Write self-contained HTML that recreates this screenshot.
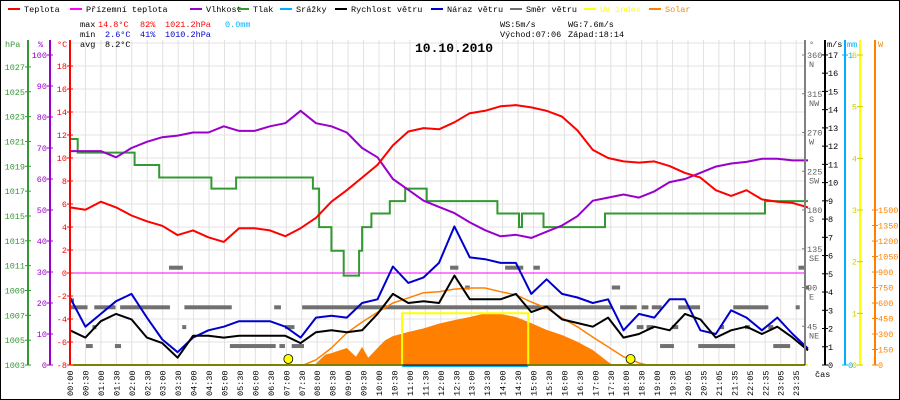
<!DOCTYPE html>
<html><head><meta charset="utf-8"><style>
html,body{margin:0;padding:0;background:#fff;}
svg{display:block;font-family:"Liberation Mono",monospace;}
</style></head><body>
<svg id="chart" width="900" height="400" viewBox="0 0 900 400" xmlns="http://www.w3.org/2000/svg">
<rect x="0" y="0" width="900" height="400" fill="#fff" stroke="#000" stroke-width="2"/>
<g id="grid"></g>
<g id="legend" font-size="8.5"></g>
<g font-size="8.5">
<text x="80" y="27" fill="#000">max</text><text x="98" y="27" fill="#f00">14.8°C</text><text x="140" y="27" fill="#f00">82%</text><text x="165" y="27" fill="#f00">1021.2hPa</text><text x="225" y="27" fill="#00b0ff">0.0mm</text>
<text x="80" y="37" fill="#000">min</text><text x="105" y="37" fill="#00c">2.6°C</text><text x="140" y="37" fill="#00c">41%</text><text x="165" y="37" fill="#00c">1010.2hPa</text>
<text x="80" y="47" fill="#000">avg</text><text x="105" y="47" fill="#000">8.2°C</text>
<text x="500" y="27" fill="#000">WS:5m/s</text><text x="568" y="27" fill="#000">WG:7.6m/s</text>
<text x="500" y="37" fill="#000">Východ:07:06</text><text x="568" y="37" fill="#000">Západ:18:14</text>
</g>
<text x="415" y="52" font-size="13" font-weight="bold" fill="#000">10.10.2010</text>
<g id="marks"></g>
<g id="axes"></g>
</svg>
<script>
// ---- data ----
const hours = [];
for (let i = 0; i <= 48; i++) hours.push(i / 2);
const tempC = [5.7,5.5,6.2,5.7,5.0,4.5,4.1,3.3,3.7,3.1,2.7,3.9,3.9,3.7,3.2,3.9,4.8,6.2,7.2,8.3,9.4,11.1,12.3,12.6,12.5,13.1,13.9,14.1,14.5,14.6,14.4,14.1,13.6,12.4,10.7,10.0,9.7,9.6,9.7,9.3,8.7,8.3,7.2,6.7,7.2,6.4,6.2,6.1,5.7];
const humidity = [69,69,69,67,70,72,73.5,74,75,75,77,75.5,75.5,77,78,82,78,77,75,70,67,60,56.5,53,51,49,46,43.5,41.5,42,41,43,45,48,53,54,55,54,56,59,60,62,64,65,65.5,66.5,66.5,66,66];
const windSpeed = [1.9,1.5,2.4,2.8,2.5,1.5,1.2,0.4,1.6,1.6,1.5,1.6,1.6,1.6,1.6,1.2,1.8,1.9,1.8,1.9,2.8,3.9,3.4,3.5,3.4,4.9,3.6,3.6,3.6,3.9,2.9,3.2,2.5,2.3,2.1,2.6,1.5,1.7,2.1,1.9,2.8,2.5,1.5,1.9,2.1,1.7,2.1,1.5,0.8];
const windGust = [3.7,2.1,2.8,3.5,3.9,2.6,1.4,0.7,1.5,1.9,2.1,2.4,2.4,2.4,2.1,1.5,2.6,2.7,2.6,3.4,3.6,5.4,4.5,4.8,5.6,7.6,5.9,5.8,5.6,5.6,3.9,4.7,3.9,3.7,3.4,3.6,1.9,2.8,2.6,3.6,3.6,1.9,1.7,3.0,2.6,1.9,2.6,1.7,0.9];
const pressTimes = [0,0.25,2.1,2.9,4.6,5.4,7.9,8.1,8.5,8.9,9.4,9.5,9.8,9.9,10.4,10.9,11.6,13.9,14.6,14.7,14.9,15.4,17.4,22.6,24];
const pressVals = [1021.2,1020.1,1019.1,1018.1,1017.2,1018.1,1017.2,1014.1,1012.2,1010.2,1012.2,1014.1,1015.2,1015.2,1016.2,1017.2,1016.2,1015.2,1014.1,1015.2,1015.2,1014.1,1015.2,1016.2,1016.2];
const solarT = [7.95,8.3,8.5,9,9.3,9.5,9.7,10,10.25,10.5,11,11.5,12,12.5,13,13.5,14,14.5,15,15.5,16,16.5,17,17.5,17.65];
const solarW = [0,100,115,165,80,175,70,165,240,280,320,355,400,435,465,500,495,465,405,340,290,225,145,30,0];
const clearT = [7.6,8,8.5,9,9.5,10,10.5,11,11.5,12,12.5,13,13.5,14,14.5,15,15.5,16,16.5,17,17.5,18,18.5,18.75];
const clearW = [0,50,165,310,415,510,600,650,700,710,735,745,745,710,680,610,550,455,370,270,175,80,20,0];
const uvT = [0,10.8,14.9,24];
const uvV = [0,1,0,0];
const dirStart = [0,0,0.79,1.63,3.72,6.64,7.55,11.87,17.89,18.59,18.92,19.78,21.57,23.6,0.73,3.65,6.99,18.43,18.75,19.57,21.14,21.95,22.71,0.52,1.46,5.2,6.81,7.21,19.19,20.43,22.87,3.22,12.36,14.15,15.07,23.69,12.85,17.62,23.9];
const dirEnd   = [0.08,0.57,1.48,3.25,5.26,6.86,12.03,17.62,18.43,18.81,19.24,20.49,22.71,23.7,0.83,3.76,7.3,18.65,18.97,19.78,21.25,22.11,22.87,0.74,1.66,6.69,6.99,7.61,19.64,21.63,23.42,3.67,12.63,14.74,15.28,23.9,13.0,17.89,24];
const dirDeg   = [75,67,67,67,67,67,67,67,67,67,67,67,67,67,44,44,44,44,44,44,44,44,44,22,22,22,22,22,22,22,22,113,113,113,113,113,90,90,90];
const timeLabels = ["00:00","00:30","01:00","01:30","02:00","02:30","03:00","03:30","04:00","04:30","05:00","05:30","06:00","06:30","07:00","07:30","08:00","08:30","09:00","09:30","10:00","10:30","11:00","11:30","12:00","12:30","13:00","13:30","14:00","14:30","15:00","15:30","16:00","16:30","17:00","17:30","18:00","18:30","19:00","19:30","20:05","20:35","21:05","21:35","22:05","22:35","23:05","23:35"];
const sunEvents = [7.1, 18.23];
const hpaTicks = [1027,1025,1023,1021,1019,1017,1015,1013,1011,1009,1007,1005,1003];
const humTicks = [100,90,80,70,60,50,40,30,20,10,0];
const tempTicks = [18,16,14,12,10,8,6,4,2,0,-2,-4,-6,-8];
const msTicks = [17,16,15,14,13,12,11,10,9,8,7,6,5,4,3,2,1,0];
const degTicks = [360,315,270,225,180,135,90,45];
const degNames = ["N","NW","W","SW","S","SE","E","NE"];
const uvTicks = [0,1,2,3,4,5,6];
const wTicks = [0,150,300,450,600,750,900,1050,1200,1350,1500];

// ---- scales ----
const X0 = 70, PXH = 30.75, XR = 805, YB = 365;
const x = t => X0 + t * PXH;
const yT = c => 273 - c * 11.5;
const yH = h => 365 - h * 3.1;
const yP = p => 365 - (p - 1003) * 12.42;
const yV = v => 365 - v * 18.24;
const yD = d => 365 - d * 0.8611;
const yW = w => 365 - w * 0.1033;
const yU = u => 365 - u * 51.67;

const NS = "http://www.w3.org/2000/svg";
function mk(parent, tag, attrs, text) {
  const e = document.createElementNS(NS, tag);
  for (const k in attrs) e.setAttribute(k, attrs[k]);
  if (text !== undefined) e.textContent = text;
  parent.appendChild(e);
  return e;
}
const grid = document.getElementById('grid');
const marks = document.getElementById('marks');
const axes = document.getElementById('axes');
const legend = document.getElementById('legend');

// grid
for (let i = 0; i < timeLabels.length; i++) {
  const gx = X0 + i * 15.45;
  const l = mk(grid, 'line', {x1: gx, y1: 40, x2: gx, y2: YB, stroke: '#e4e0e0', 'stroke-width': 1});
  
  
  const tl = mk(axes, 'text', {x: 0, y: 0, 'font-size': 8.5, fill: '#000', transform: 'translate(' + (gx + 3) + ',396) rotate(-90)'}, timeLabels[i]);
  
  
}
for (let c = 20; c >= -6; c -= 2) {
  const l = mk(grid, 'line', {x1: X0, y1: yT(c), x2: XR, y2: yT(c), stroke: '#e4e0e0', 'stroke-width': 1});
  
  
}

// solar fill
let sp = 'M' + x(solarT[0]) + ',' + YB;
for (let i = 0; i < solarT.length; i++) sp += ' L' + x(solarT[i]) + ',' + yW(solarW[i]);
sp += ' L' + x(solarT[solarT.length - 1]) + ',' + YB + ' Z';
const sol = mk(marks, 'path', {d: sp, fill: '#ff8000'});



function poly(ts, vs, yf, color, name, w) {
  const pts = ts.map((t, i) => x(t).toFixed(1) + ',' + yf(vs[i]).toFixed(1)).join(' ');
  const p = mk(marks, 'polyline', {points: pts, fill: 'none', stroke: color, 'stroke-width': w || 2, 'stroke-linejoin': 'round'});
  
  
}
function step(ts, vs, yf, color, name, w) {
  let pts = [];
  for (let i = 0; i < ts.length; i++) {
    if (i > 0) pts.push(x(ts[i]).toFixed(1) + ',' + yf(vs[i - 1]).toFixed(1));
    pts.push(x(ts[i]).toFixed(1) + ',' + yf(vs[i]).toFixed(1));
  }
  const p = mk(marks, 'polyline', {points: pts.join(' '), fill: 'none', stroke: color, 'stroke-width': w || 2});
  
  
}

// feels-like temp at 0
const fl = mk(marks, 'line', {x1: X0, y1: yT(0), x2: XR, y2: yT(0), stroke: '#ff00ff', 'stroke-width': 1});



// wind direction
for (let i = 0; i < dirDeg.length; i++) {
  const r = mk(marks, 'rect', {x: x(dirStart[i]), y: yD(dirDeg[i]) - 2, width: Math.max(4, x(dirEnd[i]) - x(dirStart[i])), height: 4, fill: '#707070'});
  
  
}

poly(clearT, clearW, yW, '#ff8000', 'solar-clear-sky-line', 1.5);
step(pressTimes, pressVals, yP, '#339933', 'pressure-line');
poly(hours, humidity, yH, '#9900cc', 'humidity-line');
poly(hours, tempC, yT, '#ff0000', 'temperature-line');
poly(hours, windGust, yV, '#0000cc', 'wind-gust-line');
poly(hours, windSpeed, yV, '#000000', 'wind-speed-line');

// precipitation / uv baselines
const rn = mk(marks, 'line', {x1: x(10.8), y1: YB + 1, x2: x(14.9), y2: YB + 1, stroke: '#00b0ff', 'stroke-width': 2});


step(uvT, uvV, yU, '#ffff00', 'uv-index-line', 2);

for (let i = 0; i < sunEvents.length; i++) {
  const c = mk(marks, 'circle', {cx: x(sunEvents[i]), cy: YB - 6, r: 4.5, fill: '#ffff00', stroke: '#000', 'stroke-width': 0.8});
  
  
}

// axes
function axisLine(ax, color, name) {
  const l = mk(axes, 'line', {x1: ax, y1: 40, x2: ax, y2: YB, stroke: color, 'stroke-width': 2});
  
  
}
function ticks(ax, vals, yf, color, side, name, labels) {
  vals.forEach((v, i) => {
    const yy = yf(v);
    mk(axes, 'line', {x1: ax - 3, y1: yy, x2: ax + 3, y2: yy, stroke: color, 'stroke-width': 1});
    const t = mk(axes, 'text', {x: side < 0 ? ax - 3 : ax + 3, y: yy + 3, 'font-size': 8.5, fill: color, 'text-anchor': side < 0 ? 'end' : 'start'}, labels ? labels[i] : String(v));
    
    
  });
}
axisLine(28, '#339933', 'pressure-axis');
axisLine(50, '#9900cc', 'humidity-axis');
axisLine(70, '#ff0000', 'temperature-axis');
axisLine(805, '#808080', 'direction-axis');
axisLine(825, '#000000', 'wind-axis');
axisLine(845, '#00b0ff', 'rain-axis');
axisLine(860, '#ffff00', 'uv-axis');
axisLine(875, '#ff8000', 'solar-axis');
const base = mk(axes, 'line', {x1: X0, y1: YB, x2: XR, y2: YB, stroke: '#000', 'stroke-width': 1});


ticks(28, hpaTicks, yP, '#339933', -1, 'pressure-tick-label');
ticks(50, humTicks, yH, '#9900cc', -1, 'humidity-tick-label');
ticks(70, tempTicks, yT, '#ff0000', -1, 'temperature-tick-label');
ticks(825, msTicks, yV, '#000', 1, 'wind-tick-label');
ticks(860, uvTicks, yU, '#cccc00', -1, 'uv-tick-label');
ticks(875, wTicks, yW, '#ff8000', 1, 'solar-tick-label');
ticks(845, [1, 0], v => v ? 55 : YB, '#00b0ff', 1, 'rain-tick-label');
degTicks.forEach((d, i) => {
  const yy = yD(d);
  mk(axes, 'line', {x1: 802, y1: yy, x2: 805, y2: yy, stroke: '#808080'});
  const t = mk(axes, 'text', {x: 807, y: yy + 3, 'font-size': 8.5, fill: '#606060'}, String(d));
  
  
  const n = mk(axes, 'text', {x: 809, y: yy + 12, 'font-size': 8.5, fill: '#606060'}, degNames[i]);
  
  
});
[['hPa', 5, '#339933'], ['%', 38, '#9900cc'], ['°C', 57, '#ff0000'], ['°', 809, '#606060'], ['m/s', 827, '#000'], ['mm', 847, '#00b0ff'], ['W', 878, '#ff8000']].forEach(a => {
  const t = mk(axes, 'text', {x: a[1], y: 47, 'font-size': 8.5, fill: a[2]}, a[0]);
  
  
});
const cas = mk(axes, 'text', {x: 815, y: 377, 'font-size': 8.5, fill: '#000'}, 'čas');



// legend
[['Teplota', 8, '#ff0000', '#000'], ['Přízemní teplota', 70, '#ff00ff', '#000'], ['Vlhkost', 190, '#9900cc', '#000'], ['Tlak', 237, '#339933', '#000'], ['Srážky', 280, '#00b0ff', '#000'], ['Rychlost větru', 335, '#000', '#000'], ['Náraz větru', 431, '#0000cc', '#000'], ['Směr větru', 510, '#707070', '#000'], ['UV index', 584, '#ffff00', '#ffff00'], ['Solar', 649, '#ff8000', '#ff8000']].forEach(l => {
  const g = mk(legend, 'g', {});
  
  
  mk(g, 'rect', {x: l[1], y: 8, width: 12, height: 2, fill: l[2]});
  mk(g, 'text', {x: l[1] + 16, y: 12, 'font-size': 8.5, fill: l[3]}, l[0]);
});
</script>
</body></html>
